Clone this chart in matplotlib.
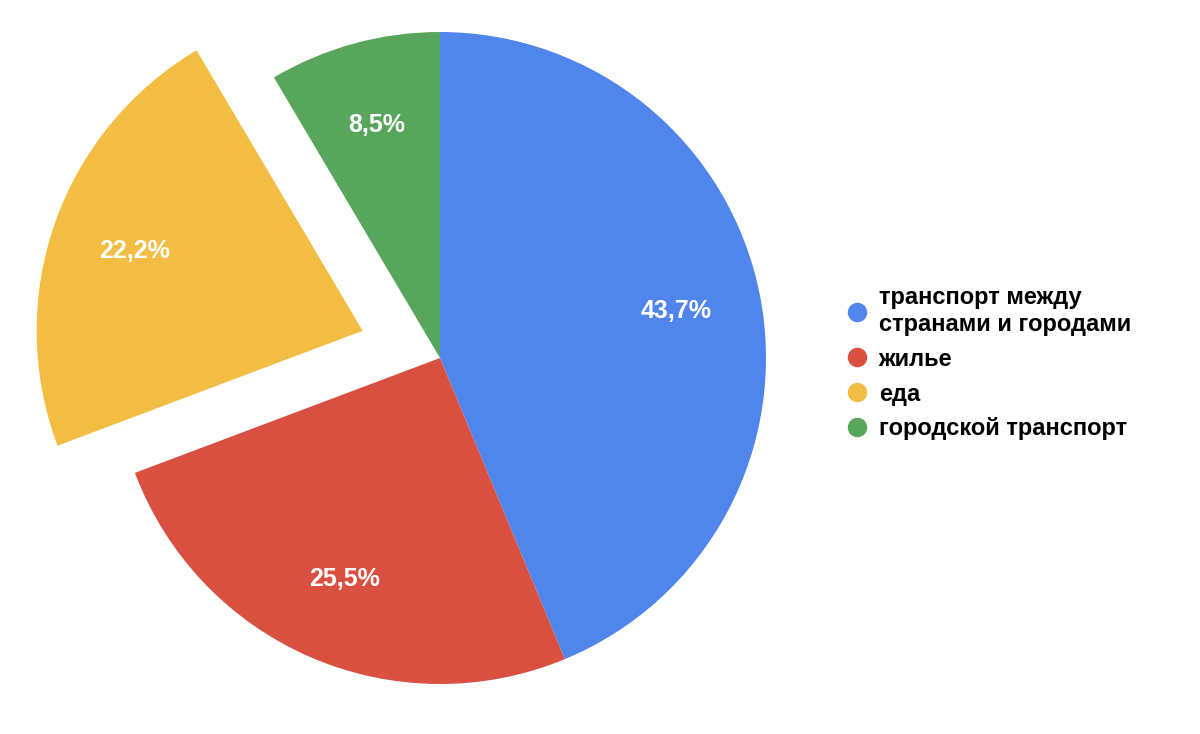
import matplotlib.pyplot as plt
from matplotlib.lines import Line2D

labels = ["транспорт между\nстранами и городами", "жилье", "еда", "городской транспорт"]
values = [43.7, 25.5, 22.2, 8.5]
colors = ["#5086ec", "#d95040", "#f2bd42", "#58a65c"]
explode = [0, 0, 82, 0]  # pie offsets in data units (pixels here)

plt.rcParams['font.family'] = ['Liberation Sans', 'DejaVu Sans']

fig = plt.figure(figsize=(12, 7.34), dpi=100)
ax = fig.add_axes([0, 0, 1, 1])
ax.set_xlim(0, 1200)
ax.set_ylim(0, 734)
ax.set_aspect('equal')
ax.axis('off')

wedges, texts, autotexts = ax.pie(
    values, colors=colors, explode=explode, startangle=90, counterclock=False,
    center=(440, 376), radius=326, autopct=lambda p: f"{p:.1f}%".replace('.', ','),
    pctdistance=0.74, wedgeprops=dict(linewidth=0),
    textprops=dict(color='white', fontsize=18, fontweight='bold'))
ax.set_xlim(0, 1200)
ax.set_ylim(0, 734)

handles = [Line2D([], [], marker='o', linestyle='', markersize=13, color=c) for c in colors]
ax.legend(handles, labels, loc='center left', bbox_to_anchor=(0.685, 0.505),
          frameon=False, prop=dict(size=17, weight='bold'), handletextpad=0.3,
          handlelength=1.2, labelspacing=0.5)

fig.savefig("out.png", dpi=100)
